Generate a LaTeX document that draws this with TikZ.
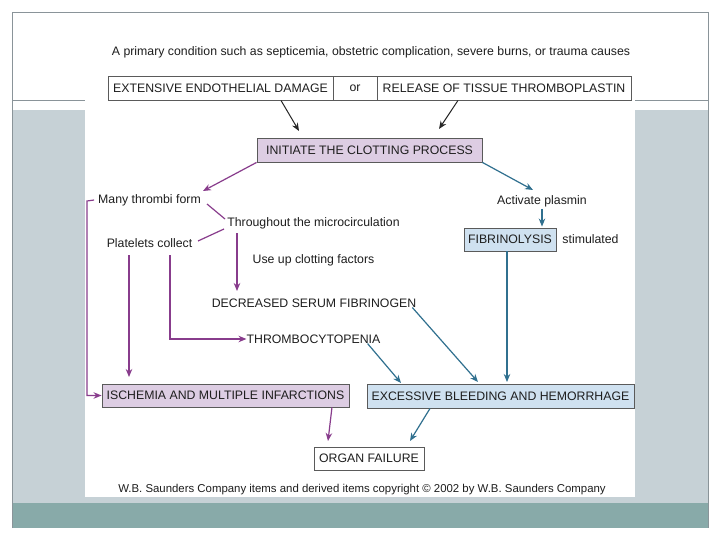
\documentclass[tikz,border=0pt]{standalone}
\usepackage{fontspec}
\setmainfont{Liberation Sans}
\usetikzlibrary{arrows.meta}
\definecolor{frame}{HTML}{8A9499}
\definecolor{panel}{HTML}{C6D1D6}
\definecolor{tealbar}{HTML}{88AAA9}
\definecolor{purp}{HTML}{883C8C}
\definecolor{blu}{HTML}{30708F}
\definecolor{purfill}{HTML}{DDCDE3}
\definecolor{blufill}{HTML}{CFE1F0}
\definecolor{boxline}{HTML}{5A5A5A}
\definecolor{txt}{HTML}{1E1E1E}
\begin{document}
\begin{tikzpicture}[x=1pt,y=-1pt,
  font=\fontsize{12.3}{14}\selectfont,
  box/.style={draw=boxline, line width=0.9pt, inner sep=0pt, text=txt},
  lbl/.style={inner sep=0pt, text=txt},
  arr/.style={line width=1.2pt, -{Stealth[length=8pt,width=6.5pt]}},
  parr/.style={arr, draw=purp},
  pline/.style={draw=purp, line width=1.2pt},
  barr/.style={arr, draw=blu},
  karr/.style={arr, draw=black!85, line width=1pt}]
\useasboundingbox (0,0) rectangle (720,540);
% background slide
\fill[white] (0,0) rectangle (720,540);
\fill[panel] (12,110) rectangle (708,503);
\fill[tealbar] (12,503) rectangle (708,528);
\draw[frame, line width=0.8pt] (12,528) -- (12,12) -- (708,12) -- (708,528);
\draw[frame, line width=0.8pt] (12,100) -- (708,100);
\fill[white] (85,30) rectangle (635,497);

% texts
\node[lbl] (top) at (371,52) {A primary condition such as septicemia, obstetric complication, severe burns, or trauma causes};
\node[box, minimum width=225pt, minimum height=24pt] (ext) at (220.5,88) {EXTENSIVE ENDOTHELIAL DAMAGE};
\node[box, minimum width=44pt, minimum height=24pt] (or) at (355,88) {or};
\node[box, minimum width=254pt, minimum height=24pt] (rel) at (504,88) {RELEASE OF TISSUE THROMBOPLASTIN};
\node[box, fill=purfill, minimum width=225pt, minimum height=24pt] (init) at (369.5,150) {INITIATE THE CLOTTING PROCESS};

\node[lbl] (mtf) at (149.5,200) {Many thrombi form};
\node[lbl] (thr) at (313.5,223) {Throughout the microcirculation};
\node[lbl] (plc) at (149.5,243) {Platelets collect};
\node[lbl] (use) at (313.5,260) {Use up clotting factors};
\node[lbl] (dsf) at (314,303) {DECREASED SERUM FIBRINOGEN};
\node[lbl] (tcp) at (313.5,339) {THROMBOCYTOPENIA};
\node[lbl] (act) at (542,201) {Activate plasmin};
\node[box, fill=blufill, minimum width=92pt, minimum height=23pt] (fib) at (510,239.5) {FIBRINOLYSIS};
\node[lbl] (stim) at (590.5,239) {stimulated};
\node[box, fill=purfill, minimum width=247pt, minimum height=23pt] (isch) at (225.5,395.5) {ISCHEMIA AND MULTIPLE INFARCTIONS};
\node[box, fill=blufill, minimum width=267pt, minimum height=24pt] (exc) at (500.5,396) {EXCESSIVE BLEEDING AND HEMORRHAGE};
\node[box, fill=white, minimum width=110pt, minimum height=23pt] (org) at (369,458.5) {ORGAN FAILURE};
\node[lbl, font=\fontsize{11.4}{13}\selectfont] (foot) at (362,490) {W.B. Saunders Company items and derived items copyright \textcopyright{} 2002 by W.B. Saunders Company};

% connector end points
\coordinate (e1) at (299,131);
\coordinate (e2) at (439,129);
\coordinate (e3) at (203,191);
\coordinate (e6) at (237,291);
\coordinate (k1) at (87,201);
\coordinate (k2) at (87,395.5);
\coordinate (e8) at (129,377);
\coordinate (k3) at (170,339);
\coordinate (e11) at (533,190);
\coordinate (e14) at (478,382);
\coordinate (e15) at (401,383);
\coordinate (e16) at (410,441);
\coordinate (e10) at (328,441);

% black arrows
\draw[karr] ([xshift=60.5pt]ext.south) -- (e1);
\draw[karr] ([xshift=-46pt]rel.south) -- (e2);
% purple
\draw[parr] (init.south west) -- (e3);
\draw[pline] (207,204) -- (225,219);
\draw[pline] (224,229) -- (198,241);
\draw[parr] (237,233) -- (e6);
\draw[parr] ([xshift=-4pt]mtf.west) -- (k1) -- (k2) -- (isch.west);
\draw[parr] (129,255) -- (e8);
\draw[parr] (170,255) -- (k3) -- (tcp.west);
\draw[parr] ([xshift=-17.5pt]isch.south east) -- (e10);
% blue
\draw[barr] (init.south east) -- (e11);
\draw[barr] ([yshift=-2pt]act.south) -- ([yshift=1pt]fib.north -| act.south);
\draw[barr] ([xshift=-3pt]fib.south) -- (e14 -| 507,0);
\draw[barr] ([xshift=-4pt]dsf.south east) -- (e14);
\draw[barr] ([xshift=-13pt]tcp.south east) -- (e15);
\draw[barr] ([xshift=-70.5pt]exc.south) -- (e16);
\end{tikzpicture}
\end{document}
